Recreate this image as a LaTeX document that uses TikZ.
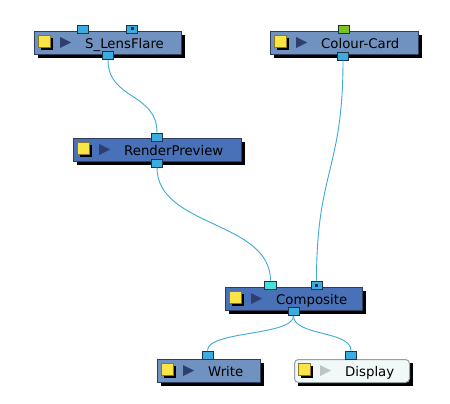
\documentclass[tikz,border=0pt]{standalone}
\usepackage{fontspec}
\setmainfont{DejaVu Sans}
\definecolor{nodelight}{RGB}{112,146,192}
\definecolor{nodedark}{RGB}{72,113,184}
\definecolor{nodeedge}{RGB}{44,62,92}
\definecolor{dispfill}{RGB}{241,248,248}
\definecolor{dispedge}{RGB}{150,160,160}
\definecolor{portblue}{RGB}{58,172,224}
\definecolor{portcyan}{RGB}{70,224,216}
\definecolor{portgreen}{RGB}{124,194,30}
\definecolor{portedge}{RGB}{30,50,75}
\definecolor{wire}{RGB}{60,170,215}
\definecolor{iconyellow}{RGB}{250,228,70}
\definecolor{iconedge}{RGB}{140,120,30}
\definecolor{tridark}{RGB}{46,62,110}
\definecolor{trilight}{RGB}{190,196,196}
\newcommand\mknode[7]{%
  \fill[black] (#2+4,#3+4) rectangle ++(#4,23);
  \node[nodebox,#5,minimum width=#4pt] (#1) at (#2,#3) {};
  \fill[black] (#2+7,#3+7) rectangle ++(12,12);
  \draw[iconsq] (#2+4,#3+4) rectangle ++(12,12);
  \fill[#6] (#2+26,#3+6) -- ++(11,5.5) -- ++(-11,5.5) -- cycle;
  \node[lbl] (#1-t) at (#2+51,#3+17.5) {#7};
}
\begin{document}
\begin{tikzpicture}[x=1pt,y=-1pt,
  nodebox/.style={rectangle,line width=1pt,minimum height=23pt,inner sep=0pt,anchor=north west},
  lightbox/.style={fill=nodelight,draw=nodeedge},
  darkbox/.style={fill=nodedark,draw=nodeedge},
  dispbox/.style={fill=dispfill,draw=dispedge,rounded corners=4pt},
  iconsq/.style={fill=iconyellow,draw=iconedge,line width=0.8pt},
  lbl/.style={anchor=base west,inner sep=0pt,text=black,font=\fontsize{13.3}{16}\selectfont},
  port/.style={rectangle,draw=portedge,fill=portblue,line width=0.8pt,minimum width=11pt,minimum height=8pt,inner sep=0pt},
  dot/.style={fill=portedge},
  wirestyle/.style={draw=wire,line width=0.9pt}]
\useasboundingbox (0,0) rectangle (450,404);
\fill[white] (0,0) rectangle (450,404);

\mknode{sl}{34}{31}{147}{lightbox}{tridark}{S\_LensFlare}
\mknode{cc}{270}{31}{148}{lightbox}{tridark}{Colour-Card}
\mknode{rp}{73}{138}{168}{darkbox}{tridark}{RenderPreview}
\mknode{co}{225}{287}{137}{darkbox}{tridark}{Composite}
\mknode{wr}{157}{359}{103}{lightbox}{tridark}{Write}
\mknode{di}{294}{359}{115}{dispbox}{trilight}{Display}

% ports
\node[port] (sl-in1) at (82.5,29) {};
\node[port] (sl-in2) at (132,29) {};
\fill[dot] (130.5,27.5) rectangle ++(3,3);
\node[port] (sl-out) at (108,55.5) {};
\node[port,fill=portgreen] (cc-in) at (343.5,29.5) {};
\node[port] (cc-out) at (343,56) {};
\node[port] (rp-in) at (157,137) {};
\node[port] (rp-out) at (157,163) {};
\node[port,fill=portcyan,minimum width=12pt] (co-in1) at (270.5,285) {};
\node[port] (co-in2) at (316.5,285) {};
\fill[dot] (315,283.5) rectangle ++(3,3);
\node[port] (co-out) at (293.5,311.5) {};
\node[port] (wr-in) at (207.5,355) {};
\node[port] (di-in) at (351,355) {};

% wires
\draw[wirestyle] (sl-out.south) .. controls +(0,40) and +(0,-40) .. (rp-in.north);
\draw[wirestyle] (cc-out.south) .. controls +(0,110) and +(0,-110) .. (co-in2.north);
\draw[wirestyle] (rp-out.south) .. controls +(0,60) and +(0,-60) .. (co-in1.north);
\draw[wirestyle] (co-out.south) .. controls +(0,20) and +(0,-20) .. (wr-in.north);
\draw[wirestyle] (co-out.south) .. controls +(0,20) and +(0,-20) .. (di-in.north);
\end{tikzpicture}
\end{document}
